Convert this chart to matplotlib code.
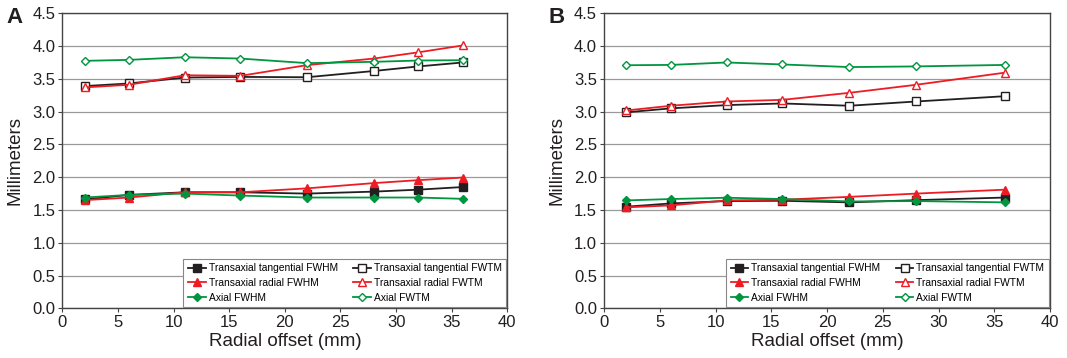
import matplotlib
matplotlib.use("Agg")
import matplotlib.pyplot as plt

plt.rcParams["font.family"] = ["Liberation Sans", "DejaVu Sans"]

# Panel A
offset_a = [2, 6, 11, 16, 22, 28, 32, 36]
tang_fwhm_a = [1.66, 1.73, 1.77, 1.77, 1.75, 1.78, 1.81, 1.85]
rad_fwhm_a = [1.65, 1.69, 1.77, 1.77, 1.83, 1.91, 1.955, 1.995]
ax_fwhm_a = [1.69, 1.73, 1.75, 1.72, 1.69, 1.69, 1.69, 1.67]
tang_fwtm_a = [3.39, 3.43, 3.52, 3.53, 3.525, 3.62, 3.69, 3.75]
rad_fwtm_a = [3.37, 3.41, 3.555, 3.546, 3.71, 3.81, 3.905, 4.01]
ax_fwtm_a = [3.775, 3.79, 3.83, 3.81, 3.74, 3.76, 3.78, 3.785]

# Panel B
offset_b = [2, 6, 11, 16, 22, 28, 36]
tang_fwhm_b = [1.55, 1.60, 1.636, 1.64, 1.616, 1.65, 1.69]
rad_fwhm_b = [1.54, 1.57, 1.646, 1.657, 1.70, 1.75, 1.81]
ax_fwhm_b = [1.646, 1.667, 1.687, 1.667, 1.63, 1.636, 1.616]
tang_fwtm_b = [2.99, 3.05, 3.10, 3.125, 3.09, 3.155, 3.236]
rad_fwtm_b = [3.018, 3.09, 3.155, 3.18, 3.287, 3.41, 3.596]
ax_fwtm_b = [3.708, 3.713, 3.75, 3.72, 3.68, 3.69, 3.713]

LABELS = ["Transaxial tangential FWHM", "Transaxial radial FWHM", "Axial FWHM",
          "Transaxial tangential FWTM", "Transaxial radial FWTM", "Axial FWTM"]
BLACK, RED, GREEN = "#231f20", "#ed1c24", "#00963f"
STYLES = [(BLACK, "s", True), (RED, "^", True), (GREEN, "D", True),
          (BLACK, "s", False), (RED, "^", False), (GREEN, "D", False)]


def draw_panel(ax, x, series, letter):
    for ys, label, (col, mk, filled) in zip(series, LABELS, STYLES):
        size = 4 if mk == "D" else 5.5
        ax.plot(x, ys, color=col, lw=1.3, marker=mk, ms=size, mew=1.0,
                mfc=col if filled else "white", mec=col, label=label, zorder=3)
    ax.set_xlim(0, 40)
    ax.set_ylim(0, 4.5)
    ax.set_xticks(range(0, 41, 5))
    ax.set_yticks([i * 0.5 for i in range(10)])
    ax.yaxis.set_major_formatter(matplotlib.ticker.FormatStrFormatter("%.1f"))
    ax.tick_params(labelsize=12, length=3, color="#444444", pad=2,
                   labelcolor="#231f20")
    ax.grid(axis="y", color="#9a9a9a", lw=0.9)
    ax.set_axisbelow(True)
    for sp in ax.spines.values():
        sp.set_color("#444444")
        sp.set_linewidth(1.0)
    ax.set_xlabel("Radial offset (mm)", fontsize=13.5, labelpad=2,
                  color="#231f20")
    ax.set_ylabel("Millimeters", fontsize=13.5, labelpad=6, color="#231f20")
    ax.text(-0.125, 0.985, letter, transform=ax.transAxes, fontsize=16,
            fontweight="bold", ha="left", va="center", color="#231f20")
    leg = ax.legend(ncol=2, loc="lower right", fontsize=7.4, frameon=True,
                    fancybox=False, handlelength=1.7, handletextpad=0.3,
                    columnspacing=1.5, labelspacing=0.45, borderpad=0.45,
                    borderaxespad=0.1)
    leg.get_frame().set_edgecolor("#888888")
    leg.get_frame().set_linewidth(0.8)
    leg.get_frame().set_alpha(1.0)


fig = plt.figure(figsize=(10.67, 3.58), dpi=100)
ax_a = fig.add_axes([0.0584, 0.1388, 0.4171, 0.824])
ax_b = fig.add_axes([0.5661, 0.1388, 0.418, 0.824])

draw_panel(ax_a, offset_a, [tang_fwhm_a, rad_fwhm_a, ax_fwhm_a,
                            tang_fwtm_a, rad_fwtm_a, ax_fwtm_a], "A")
draw_panel(ax_b, offset_b, [tang_fwhm_b, rad_fwhm_b, ax_fwhm_b,
                            tang_fwtm_b, rad_fwtm_b, ax_fwtm_b], "B")

fig.savefig("out.png", dpi=100)
